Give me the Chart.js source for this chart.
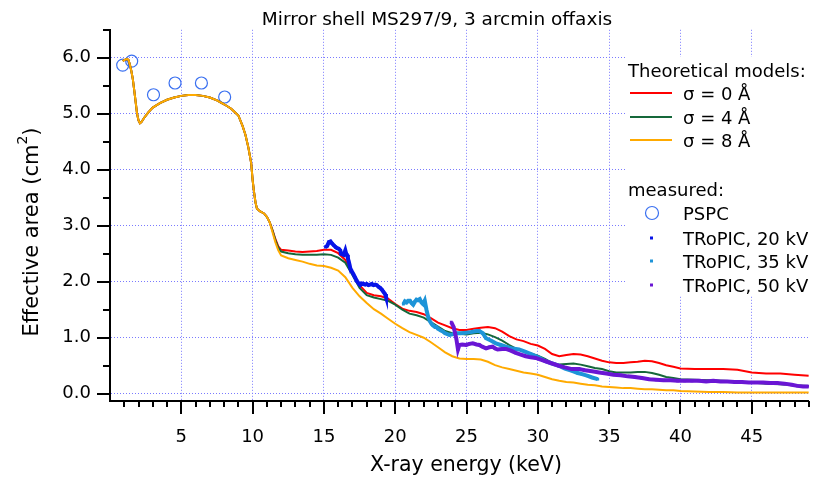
<!DOCTYPE html>
<html>
<head>
<meta charset="utf-8">
<script src="https://cdn.jsdelivr.net/npm/chart.js@4.4.0/dist/chart.umd.min.js"></script>
<style>
  html, body { margin: 0; padding: 0; background: #fff; }
</style>
</head>
<body>
<canvas id="chart" width="816" height="477"></canvas>
<script>
// Effective area vs energy, mirror shell MS297/9
const E_MODEL = [
  0.9, 1.0, 1.2, 1.3, 1.4, 1.5, 1.6, 1.7, 1.8, 1.9,
  2.0, 2.1, 2.2, 2.4, 2.7, 3.0, 3.5, 4.0, 4.5, 5.0,
  5.5, 6.0, 6.5, 7.0, 7.5, 8.0, 8.5, 9.0, 9.3, 9.5,
  9.7, 9.9, 10.0, 10.1, 10.2, 10.3, 10.5, 10.8, 11.0, 11.2,
  11.4, 11.6, 11.8, 12.0, 12.5, 13.0, 13.5, 14.0, 14.5, 15.0,
  15.5, 16.0, 16.5, 17.0, 17.5, 18.0, 18.5, 19.0, 19.5, 20.0,
  20.5, 21.0, 21.5, 22.0, 22.5, 23.0, 23.5, 24.0, 24.5, 25.0,
  25.5, 26.0, 26.5, 27.0, 27.5, 28.0, 28.5, 29.0, 29.5, 30.0,
  30.5, 31.0, 31.5, 32.0, 32.5, 33.0, 33.5, 34.0, 34.5, 35.0,
  35.5, 36.0, 36.5, 37.0, 37.5, 38.0, 38.5, 39.0, 39.5, 40.0,
  41, 42, 43, 44, 45, 46, 47, 48, 49
];

// below 11.2 keV the three models are the same
const MODEL_LOW = [
  5.94, 5.96, 5.98, 5.96, 5.87, 5.76, 5.62, 5.42, 5.21, 5.00,
  4.88, 4.83, 4.85, 4.93, 5.03, 5.11, 5.19, 5.25, 5.29, 5.32,
  5.335, 5.335, 5.32, 5.29, 5.24, 5.17, 5.09, 4.97, 4.78, 4.62,
  4.40, 4.12, 3.82, 3.60, 3.42, 3.31, 3.26, 3.22, 3.16, 3.06
];

const SIGMA_0 = MODEL_LOW.concat([
  2.92, 2.76, 2.63, 2.57, 2.56, 2.54, 2.53, 2.54, 2.55, 2.57,
  2.57, 2.51, 2.39, 2.15, 1.94, 1.80, 1.76, 1.74, 1.70, 1.60,
  1.52, 1.48, 1.46, 1.42, 1.35, 1.27, 1.22, 1.17, 1.14, 1.14,
  1.16, 1.18, 1.19, 1.17, 1.11, 1.03, 0.97, 0.94, 0.89, 0.86,
  0.80, 0.71, 0.67, 0.69, 0.71, 0.70, 0.67, 0.63, 0.59, 0.56,
  0.55, 0.55, 0.56, 0.57, 0.59, 0.58, 0.55, 0.51, 0.48, 0.45,
  0.44, 0.44, 0.44, 0.43, 0.38, 0.36, 0.36, 0.34, 0.32
]);

const SIGMA_4 = MODEL_LOW.concat([
  2.91, 2.74, 2.61, 2.54, 2.51, 2.49, 2.48, 2.48, 2.48, 2.49,
  2.48, 2.43, 2.34, 2.12, 1.89, 1.76, 1.72, 1.69, 1.66, 1.59,
  1.50, 1.43, 1.40, 1.36, 1.28, 1.20, 1.12, 1.08, 1.07, 1.06,
  1.08, 1.09, 1.06, 1.01, 0.95, 0.87, 0.80, 0.76, 0.72, 0.68,
  0.62, 0.55, 0.52, 0.53, 0.54, 0.52, 0.49, 0.46, 0.44, 0.40,
  0.38, 0.38, 0.38, 0.39, 0.39, 0.37, 0.34, 0.30, 0.28, 0.26,
  0.25, 0.24, 0.23, 0.22, 0.20, 0.18, 0.17, 0.15, 0.14
]);

const SIGMA_8 = MODEL_LOW.concat([
  2.88, 2.70, 2.56, 2.47, 2.42, 2.39, 2.36, 2.32, 2.29, 2.28,
  2.25, 2.20, 2.08, 1.89, 1.74, 1.62, 1.51, 1.43, 1.34, 1.25,
  1.17, 1.10, 1.05, 1.00, 0.92, 0.83, 0.74, 0.67, 0.63, 0.62,
  0.62, 0.61, 0.57, 0.51, 0.47, 0.44, 0.41, 0.38, 0.36, 0.34,
  0.30, 0.26, 0.23, 0.21, 0.20, 0.18, 0.16, 0.15, 0.13, 0.12,
  0.11, 0.10, 0.10, 0.09, 0.08, 0.08, 0.07, 0.06, 0.06, 0.05,
  0.04, 0.03, 0.03, 0.02, 0.02, 0.02, 0.02, 0.02, 0.02
]);

// PSPC measurements
const E_PSPC = [0.89, 1.52, 3.05, 4.56, 6.41, 8.04];
const A_PSPC = [5.87, 5.94, 5.34, 5.55, 5.55, 5.30];

// TRoPIC measurements
const E_20KV = [
  15.11, 15.23, 15.35, 15.46, 15.58, 15.70, 15.81, 15.93, 16.04, 16.15,
  16.20, 16.30, 16.39, 16.50, 16.56, 16.62, 16.68, 16.74, 16.80, 16.85,
  16.95, 17.08, 17.20, 17.32, 17.44, 17.55, 17.66, 17.78, 17.90, 18.00,
  18.12, 18.24, 18.36, 18.48, 18.60, 18.71, 18.82, 18.94, 19.06, 19.17,
  19.29, 19.35, 19.40
];
const A_20KV = [
  2.62, 2.64, 2.71, 2.72, 2.68, 2.65, 2.62, 2.60, 2.59, 2.56,
  2.50, 2.49, 2.48, 2.56, 2.50, 2.48, 2.42, 2.36, 2.30, 2.24,
  2.19, 2.13, 2.07, 2.01, 1.97, 1.94, 1.97, 1.96, 1.95, 1.96,
  1.94, 1.95, 1.96, 1.94, 1.95, 1.94, 1.91, 1.89, 1.86, 1.82,
  1.78, 1.73, 1.69
];

const E_35KV = [
  20.57, 20.68, 20.80, 20.91, 21.03, 21.14, 21.26, 21.37, 21.49, 21.60,
  21.72, 21.84, 21.96, 22.07, 22.19, 22.30, 22.42, 22.54, 22.65, 22.80,
  22.89, 23.00, 23.20, 23.35, 23.50, 23.80, 24.00, 24.28, 24.60, 24.97,
  25.30, 25.67, 25.90, 26.14, 26.37, 26.70, 27.06, 27.40, 27.76, 28.20,
  28.68, 29.10, 29.61, 30.10, 30.54, 31.00, 31.47, 31.90, 32.40, 32.80,
  33.10, 33.50, 33.80, 34.20
];
const A_35KV = [
  1.60, 1.65, 1.63, 1.66, 1.66, 1.62, 1.59, 1.64, 1.68, 1.67,
  1.69, 1.63, 1.60, 1.66, 1.50, 1.38, 1.30, 1.25, 1.22, 1.19,
  1.19, 1.16, 1.13, 1.11, 1.08, 1.05, 1.06, 1.08, 1.08, 1.09,
  1.10, 1.12, 1.12, 1.08, 0.99, 0.95, 0.90, 0.87, 0.84, 0.81,
  0.79, 0.75, 0.70, 0.64, 0.58, 0.54, 0.50, 0.45, 0.41, 0.37,
  0.35, 0.32, 0.29, 0.26
];

const E_50KV = [
  23.93, 24.10, 24.28, 24.40, 24.50, 24.70, 24.97, 25.20, 25.44, 25.70,
  25.90, 26.10, 26.37, 26.60, 26.83, 27.00, 27.18, 27.50, 27.76, 28.10,
  28.45, 28.80, 29.15, 29.50, 29.85, 30.20, 30.54, 31.00, 31.47, 31.90,
  32.40, 32.90, 33.30, 33.80, 34.30, 34.80, 35.30, 35.80, 36.30, 36.80,
  37.30, 37.80, 38.30, 38.80, 39.30, 39.80, 40.30, 40.80, 41.30, 41.80,
  42.30, 42.80, 43.30, 43.80, 44.30, 44.80, 45.30, 45.80, 46.30, 46.80,
  47.30, 47.80, 48.20, 48.60, 49.00
];
const A_50KV = [
  1.28, 1.19, 0.99, 0.79, 0.87, 0.88, 0.87, 0.89, 0.90, 0.88,
  0.87, 0.84, 0.81, 0.83, 0.84, 0.81, 0.79, 0.80, 0.80, 0.77,
  0.73, 0.70, 0.67, 0.65, 0.64, 0.61, 0.58, 0.54, 0.50, 0.47,
  0.44, 0.44, 0.42, 0.40, 0.38, 0.36, 0.34, 0.33, 0.31, 0.30,
  0.28, 0.26, 0.25, 0.24, 0.24, 0.23, 0.23, 0.23, 0.23, 0.22,
  0.23, 0.22, 0.22, 0.21, 0.21, 0.20, 0.20, 0.20, 0.19, 0.19,
  0.18, 0.16, 0.14, 0.13, 0.13
];

const X_TICKS = [5, 10, 15, 20, 25, 30, 35, 40, 45];
const Y_TICKS = [0, 1, 2, 3, 4, 5, 6];

const FONT = '"DejaVu Sans", Verdana, sans-serif';
const GRID = '#7a7aff';
const RED = '#ff0000';
const GREEN = '#15683a';
const ORANGE = '#ffaa00';
const BLUE = '#0814e8';
const LIGHTBLUE = '#1e94d8';
const PURPLE = '#6a16d4';
const CIRCLE = '#3a70f0';

function pairs(xs, ys) {
  return xs.map((x, i) => ({ x: x, y: ys[i] }));
}

function modelSet(label, ys, color) {
  return {
    label: label,
    data: pairs(E_MODEL, ys),
    showLine: true,
    borderColor: color,
    borderWidth: 2,
    pointRadius: 0,
    tension: 0
  };
}

function tropicSet(label, xs, ys, color) {
  return {
    label: label,
    data: pairs(xs, ys),
    showLine: true,
    borderColor: color,
    borderWidth: 4,
    pointStyle: 'rect',
    pointRadius: 2,
    pointBackgroundColor: color,
    pointBorderWidth: 0,
    tension: 0
  };
}

// title, axis titles, minor ticks and the legend box
const decorations = {
  id: 'decorations',
  beforeDatasetsDraw(chart) {
    const ctx = chart.ctx;
    ctx.save();
    ctx.fillStyle = '#fff';
    ctx.fillRect(627, 57, 189, 239);
    ctx.restore();
  },
  afterDraw(chart) {
    const ctx = chart.ctx;
    const xs = chart.scales.x;
    const ys = chart.scales.y;
    const area = chart.chartArea;
    ctx.save();

    // tick marks
    ctx.strokeStyle = '#000';
    ctx.lineWidth = 2;
    ctx.beginPath();
    for (let v = 1; v <= 49; v++) {
      const px = Math.round(xs.getPixelForValue(v));
      const len = v % 5 === 0 ? 13 : 6;
      ctx.moveTo(px, area.bottom);
      ctx.lineTo(px, area.bottom + len);
    }
    for (let k = 0; k <= 13; k++) {
      const py = Math.round(ys.getPixelForValue(k / 2));
      const len = k % 2 === 0 ? 13 : 7;
      ctx.moveTo(area.left, py);
      ctx.lineTo(area.left - len, py);
    }
    ctx.stroke();

    // title
    ctx.fillStyle = '#000';
    ctx.textAlign = 'center';
    ctx.textBaseline = 'middle';
    ctx.font = '18.5px ' + FONT;
    ctx.fillText('Mirror shell MS297/9, 3 arcmin offaxis', 437, 20);

    // x axis title
    ctx.font = '20.5px ' + FONT;
    ctx.fillText('X-ray energy (keV)', 466, 466);

    // y axis title with superscript
    ctx.save();
    ctx.translate(33, 232);
    ctx.rotate(-Math.PI / 2);
    const main = 'Effective area (cm';
    ctx.font = '21px ' + FONT;
    const wMain = ctx.measureText(main).width;
    const wClose = ctx.measureText(')').width;
    ctx.font = '14px ' + FONT;
    const wSup = ctx.measureText('2').width;
    const start = -(wMain + wSup + wClose) / 2;
    ctx.textAlign = 'left';
    ctx.font = '21px ' + FONT;
    ctx.fillText(main, start, 0);
    ctx.font = '14px ' + FONT;
    ctx.fillText('2', start + wMain, -10);
    ctx.font = '21px ' + FONT;
    ctx.fillText(')', start + wMain + wSup, 0);
    ctx.restore();

    // legend
    ctx.textAlign = 'left';
    ctx.textBaseline = 'alphabetic';
    ctx.font = '18px ' + FONT;
    ctx.fillText('Theoretical models:', 628, 77);
    const models = [['\u03c3 = 0 \u00c5', RED, 93], ['\u03c3 = 4 \u00c5', GREEN, 117], ['\u03c3 = 8 \u00c5', ORANGE, 140]];
    models.forEach(([txt, col, yy]) => {
      ctx.strokeStyle = col;
      ctx.lineWidth = 2;
      ctx.beginPath();
      ctx.moveTo(630, yy);
      ctx.lineTo(672, yy);
      ctx.stroke();
      ctx.fillStyle = '#000';
      ctx.fillText(txt, 683, yy + 7);
    });
    ctx.fillText('measured:', 628, 196);
    ctx.strokeStyle = CIRCLE;
    ctx.lineWidth = 1.2;
    ctx.beginPath();
    ctx.arc(652, 213, 6.5, 0, Math.PI * 2);
    ctx.stroke();
    ctx.fillText('PSPC', 683, 220);
    const measured = [['TRoPIC, 20 kV', BLUE, 238], ['TRoPIC, 35 kV', LIGHTBLUE, 261], ['TRoPIC, 50 kV', PURPLE, 285]];
    measured.forEach(([txt, col, yy]) => {
      ctx.fillStyle = col;
      ctx.fillRect(650, yy - 1.5, 3, 3);
      ctx.fillStyle = '#000';
      ctx.fillText(txt, 683, yy + 7);
    });

    ctx.restore();
  }
};

new Chart(document.getElementById('chart'), {
  type: 'scatter',
  data: {
    datasets: [
      tropicSet('TRoPIC, 50 kV', E_50KV, A_50KV, PURPLE),
      tropicSet('TRoPIC, 35 kV', E_35KV, A_35KV, LIGHTBLUE),
      tropicSet('TRoPIC, 20 kV', E_20KV, A_20KV, BLUE),
      modelSet('\u03c3 = 8 \u00c5', SIGMA_8, ORANGE),
      modelSet('\u03c3 = 4 \u00c5', SIGMA_4, GREEN),
      modelSet('\u03c3 = 0 \u00c5', SIGMA_0, RED),
      {
        label: 'PSPC',
        data: pairs(E_PSPC, A_PSPC),
        showLine: false,
        pointStyle: 'circle',
        pointRadius: 6,
        pointBorderColor: CIRCLE,
        pointBackgroundColor: 'rgba(0,0,0,0)',
        pointBorderWidth: 1.2
      }
    ]
  },
  options: {
    responsive: false,
    animation: false,
    layout: { padding: { top: 21, right: 0, bottom: 0, left: 0 } },
    plugins: {
      legend: { display: false },
      tooltip: { enabled: false },
      title: { display: false }
    },
    scales: {
      x: {
        type: 'linear',
        min: 0,
        max: 49,
        afterBuildTicks: (s) => { s.ticks = X_TICKS.map(v => ({ value: v })); },
        afterFit: (s) => { s.height = 76; },
        grid: { color: GRID, lineWidth: 1, drawTicks: false },
        border: { color: '#000', width: 2, dash: [1, 2] },
        ticks: {
          color: '#000',
          font: { family: FONT, size: 18 },
          padding: 26,
          maxRotation: 0,
          autoSkip: false
        }
      },
      y: {
        type: 'linear',
        min: -0.13,
        max: 6.5,
        afterBuildTicks: (s) => { s.ticks = Y_TICKS.map(v => ({ value: v })); },
        afterFit: (s) => { s.width = 110; },
        grid: { color: GRID, lineWidth: 1, drawTicks: false },
        border: { color: '#000', width: 2, dash: [1, 2] },
        ticks: {
          color: '#000',
          font: { family: FONT, size: 18 },
          padding: 19,
          callback: (v) => Number(v).toFixed(1)
        }
      }
    }
  },
  plugins: [decorations]
});
</script>
</body>
</html>
